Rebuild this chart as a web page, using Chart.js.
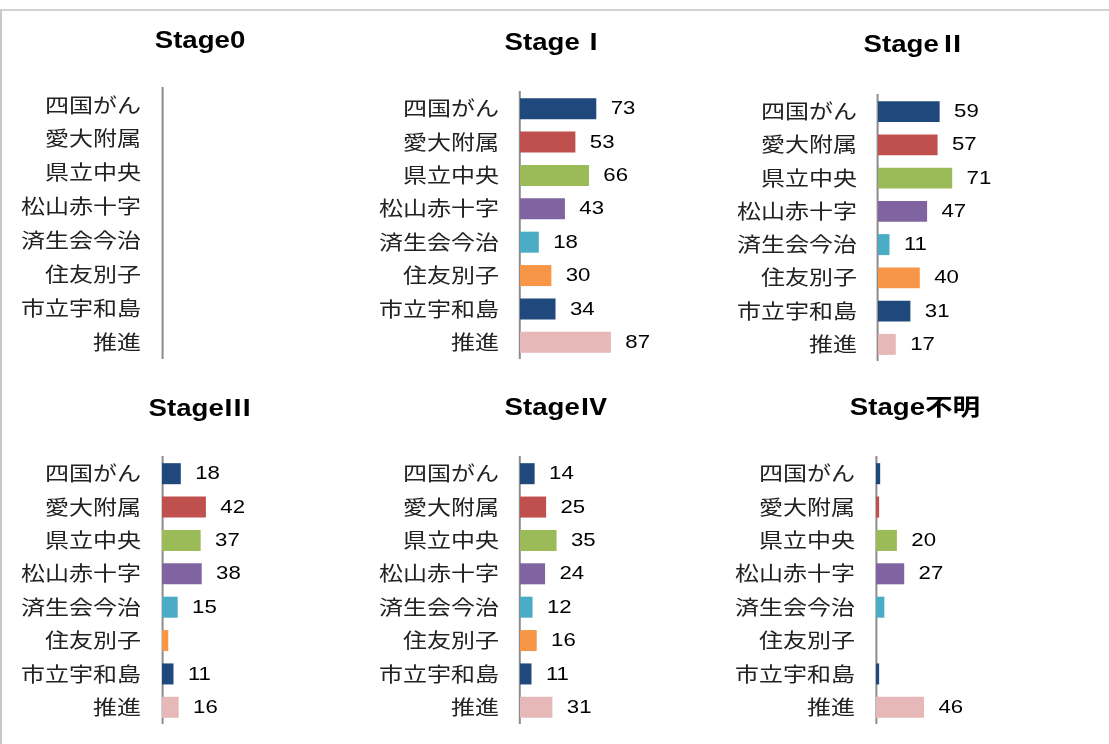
<!DOCTYPE html>
<html>
<head>
<meta charset="utf-8">
<script src="https://cdn.jsdelivr.net/npm/chart.js@4.4.1/dist/chart.umd.min.js"></script>
<style>
    body { margin: 0; background: #fff; width: 1109px; height: 744px; overflow: hidden; position: relative; }
    #cadre { position: absolute; left: 0; top: 9px; width: 1200px; height: 800px; border-top: 2px solid #d3d3d3; border-left: 2px solid #c8c8c8; }
    canvas { position: absolute; }
</style>
</head>
<body>
<div id="cadre"></div>
<canvas id="c0"></canvas>
<canvas id="c1"></canvas>
<canvas id="c2"></canvas>
<canvas id="c3"></canvas>
<canvas id="c4"></canvas>
<canvas id="c5"></canvas>

<script>
// ***************************données***************************
var hopitaux = ["四国がん", "愛大附属", "県立中央", "松山赤十字", "済生会今治", "住友別子", "市立宇和島", "推進"];
var titres = ["Stage0", "StageⅠ", "StageⅡ", "StageⅢ", "StageⅣ", "Stage不明"];

var stage0 = [0, 0, 0, 0, 0, 0, 0, 0];
var stage1 = [73, 53, 66, 43, 18, 30, 34, 87];
var stage2 = [59, 57, 71, 47, 11, 40, 31, 17];
var stage3 = [18, 42, 37, 38, 15, 6, 11, 16];
var stage4 = [14, 25, 35, 24, 12, 16, 11, 31];
var stageInconnu = [4, 3, 20, 27, 8, 0, 3, 46];

var couleurs = ["#1F497D", "#C0504D", "#9BBB59", "#8064A2", "#4BACC6", "#F79646", "#1F497D", "#E6B9B8"];

var series = [stage0, stage1, stage2, stage3, stage4, stageInconnu];

// placement de chaque petit graphique (pixels écran)
var panneaux = [
    { gauche: 20,  axeX: 162, titreY: 39,  haut: 88,  bas: 359 },
    { gauche: 376, axeX: 520, titreY: 41,  haut: 92,  bas: 359 },
    { gauche: 735, axeX: 878, titreY: 43,  haut: 95,  bas: 361 },
    { gauche: 20,  axeX: 162, titreY: 407, haut: 457, bas: 724 },
    { gauche: 376, axeX: 520, titreY: 406, haut: 457, bas: 724 },
    { gauche: 735, axeX: 876, titreY: 406, haut: 457, bas: 724 }
];

// l'image d'origine est étirée en largeur : on dessine en 300 px puis on étire à 360 px
var etirement = 1.2;
var largeurLogique = 300;
var largeurEcran = largeurLogique * etirement;
var pixelsParUnite = 1.045;

var etirer = {
    id: "etirer",
    beforeDraw: function (chart) {
        chart.ctx.setTransform(etirement, 0, 0, 1, 0, 0);
        chart.ctx.letterSpacing = "0px";
    }
};

// valeurs à droite des barres (cachées sous 10)
var etiquettes = {
    id: "etiquettes",
    afterDatasetsDraw: function (chart) {
        var ctx = chart.ctx;
        var meta = chart.getDatasetMeta(0);
        var valeurs = chart.data.datasets[0].data;
        ctx.save();
        ctx.font = "18.5px 'Liberation Sans', Arial, sans-serif";
        ctx.fillStyle = "#000";
        ctx.textAlign = "left";
        ctx.textBaseline = "middle";
        meta.data.forEach(function (barre, i) {
            if (valeurs[i] < 10) return;
            ctx.fillText(String(valeurs[i]), barre.x + 12, barre.y + 0.5);
        });
        ctx.restore();
    }
};

function creerGraphique(n) {
    var p = panneaux[n];
    var canvas = document.getElementById("c" + n);
    var hautCanvas = p.titreY - 30;
    var hauteur = p.bas - hautCanvas;
    var largeurAxe = (p.axeX - p.gauche) / etirement;

    canvas.width = largeurLogique;
    canvas.height = hauteur;
    canvas.style.left = p.gauche + "px";
    canvas.style.top = hautCanvas + "px";

    var padHaut = 21.5;
    var padBas = p.haut - hautCanvas - padHaut - 23;

    var graphique = new Chart(canvas.getContext("2d"), {
        type: "bar",
        data: {
            labels: hopitaux,
            datasets: [{
                data: series[n],
                backgroundColor: couleurs,
                borderWidth: 0,
                barPercentage: 0.63,
                categoryPercentage: 1
            }]
        },
        options: {
            indexAxis: "y",
            responsive: false,
            animation: false,
            layout: { padding: 0 },
            plugins: {
                legend: { display: false },
                tooltip: { enabled: false },
                title: {
                    display: true,
                    text: titres[n],
                    color: "#000",
                    font: { family: "'Liberation Sans', Arial, 'Noto Sans CJK JP', sans-serif", size: 23, weight: "bold", lineHeight: 1 },
                    padding: { top: padHaut, bottom: padBas }
                }
            },
            scales: {
                x: {
                    display: false,
                    min: 0,
                    max: (largeurLogique - largeurAxe) * etirement / pixelsParUnite
                },
                y: {
                    afterFit: function (scale) {
                        scale.width = largeurAxe;
                        scale.paddingTop = 0;
                        scale.paddingBottom = 0;
                    },
                    grid: { display: false, drawTicks: false },
                    border: { display: true, color: "#8c8c8c", width: 2 / etirement },
                    ticks: {
                        autoSkip: false,
                        padding: 21 / etirement,
                        color: "#222",
                        font: { family: "'Noto Sans CJK JP', sans-serif", size: 20 }
                    }
                }
            }
        },
        plugins: [etirer, etiquettes]
    });

    // on agrandit la toile puis on redessine étiré
    canvas.width = largeurEcran;
    canvas.style.width = largeurEcran + "px";
    canvas.style.height = hauteur + "px";
    graphique.draw();
    return graphique;
}

for (var i = 0; i < 6; i++) {
    creerGraphique(i);
}
</script>
</body>
</html>
